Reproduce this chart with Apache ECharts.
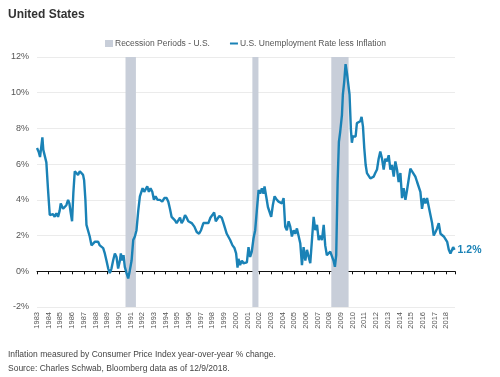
<!DOCTYPE html>
<html>
<head>
<meta charset="utf-8">
<script src="https://cdn.jsdelivr.net/npm/echarts@6/dist/echarts.min.js"></script>
<style>
  html, body { margin: 0; padding: 0; background: #fff; }
  #chart { width: 500px; height: 377px; }
</style>
</head>
<body>
<div id="chart"></div>
<script>
// values, year as decimal
const lineYears = [
  1983.00, 1983.14, 1983.26, 1983.37, 1983.46, 1983.54, 1983.66, 1983.80, 1983.94,
  1984.09, 1984.23, 1984.37, 1984.51, 1984.66, 1984.80, 1984.94,
  1985.03, 1985.23, 1985.37, 1985.51, 1985.66, 1985.77, 1985.89,
  1986.00, 1986.11, 1986.23, 1986.37, 1986.51, 1986.66, 1986.80, 1986.94,
  1987.03, 1987.14, 1987.23, 1987.37, 1987.51, 1987.66, 1987.80, 1987.94,
  1988.09, 1988.23, 1988.37, 1988.51, 1988.66, 1988.80, 1988.94,
  1989.09, 1989.23, 1989.37, 1989.51, 1989.66, 1989.80, 1989.94,
  1990.09, 1990.17, 1990.29, 1990.40, 1990.51, 1990.66, 1990.80, 1990.94,
  1991.09, 1991.23, 1991.37, 1991.51, 1991.66, 1991.80, 1991.94,
  1992.03, 1992.17, 1992.31, 1992.43, 1992.57, 1992.71, 1992.86,
  1993.00, 1993.14, 1993.31, 1993.51, 1993.71, 1993.89,
  1994.09, 1994.23, 1994.37, 1994.51, 1994.66, 1994.80, 1994.94,
  1995.09, 1995.23, 1995.37, 1995.51, 1995.66, 1995.80, 1995.94,
  1996.09, 1996.23, 1996.46, 1996.66, 1996.86,
  1997.03, 1997.23, 1997.43, 1997.66, 1997.83,
  1998.00, 1998.15, 1998.29, 1998.43, 1998.60, 1998.80, 1998.95,
  1999.09, 1999.23, 1999.37, 1999.52, 1999.72, 1999.89,
  2000.03, 2000.15, 2000.23, 2000.37, 2000.52, 2000.66, 2000.80, 2000.95,
  2001.09, 2001.23, 2001.37, 2001.52, 2001.66, 2001.80, 2001.95,
  2002.09, 2002.23, 2002.37, 2002.46, 2002.60, 2002.75, 2002.89,
  2003.03, 2003.17, 2003.32, 2003.46, 2003.66, 2003.80, 2003.95,
  2004.09, 2004.23, 2004.37, 2004.52, 2004.66, 2004.80, 2004.95,
  2005.09, 2005.23, 2005.37, 2005.52, 2005.66, 2005.80, 2005.95,
  2006.09, 2006.23, 2006.37, 2006.52, 2006.66, 2006.80, 2006.95,
  2007.09, 2007.23, 2007.37, 2007.52, 2007.65, 2007.79, 2007.93,
  2008.08, 2008.22, 2008.36, 2008.48, 2008.59, 2008.71, 2008.82, 2008.93,
  2009.08, 2009.16, 2009.28, 2009.39, 2009.51, 2009.62, 2009.73, 2009.85, 2009.93,
  2010.02, 2010.13, 2010.25, 2010.36, 2010.51, 2010.65, 2010.76, 2010.88, 2010.99,
  2011.11, 2011.22, 2011.36, 2011.51, 2011.65, 2011.79, 2011.93,
  2012.08, 2012.22, 2012.36, 2012.51, 2012.65, 2012.79, 2012.93,
  2013.08, 2013.22, 2013.36, 2013.51, 2013.65, 2013.79, 2013.93,
  2014.08, 2014.22, 2014.36, 2014.51, 2014.65, 2014.79, 2014.93,
  2015.08, 2015.22, 2015.36, 2015.51, 2015.65, 2015.79, 2015.93,
  2016.08, 2016.22, 2016.36, 2016.51, 2016.65, 2016.79, 2016.93,
  2017.08, 2017.22, 2017.36, 2017.51, 2017.65, 2017.79, 2017.93,
  2018.08, 2018.22, 2018.36, 2018.51, 2018.59, 2018.71
];
const lineValues = [
  6.9, 6.7, 6.4, 7.0, 7.5, 6.8, 6.7, 6.1, 4.6,
  3.15, 3.05, 3.2, 3.05, 3.25, 3.05, 3.4,
  3.8, 3.5, 3.4, 3.7, 4.0, 3.8, 3.25,
  2.8, 4.4, 5.6, 5.7, 5.4, 5.6, 5.5, 5.4,
  5.1, 4.0, 2.6, 2.5, 1.95, 1.45, 1.37, 1.65,
  1.75, 1.65, 1.45, 1.37, 1.3, 1.0, 0.6,
  0.15, -0.1, 0.15, 0.6, 1.0, 0.8, 0.15,
  0.6, 1.0, 0.6, 0.9, 0.25, -0.1, -0.4, 0.05,
  0.6, 1.75, 1.95, 2.3, 3.4, 4.2, 4.3,
  4.65, 4.45, 4.55, 4.75, 4.45, 4.65, 4.45,
  4.0, 4.2, 4.0, 4.0, 3.9, 4.1,
  4.1, 3.9, 3.5, 3.05, 3.15, 2.85, 2.7,
  2.6, 3.0, 2.7, 2.85, 3.15, 3.0, 2.8,
  2.85, 2.7, 2.5, 2.2, 2.1,
  2.3, 2.7, 2.7, 2.7, 3.0,
  3.15, 3.3, 2.8, 2.85, 3.1, 3.0, 2.7,
  2.8, 2.1, 2.2, 1.75, 1.45, 1.3,
  1.0, 0.2, 0.7, 0.35, 0.6, 0.45, 0.45, 0.5,
  1.35, 0.8, 1.1, 1.85, 2.3, 3.4, 4.55,
  4.35, 4.65, 4.35, 4.75, 4.2, 3.6, 3.6,
  3.05, 3.7, 4.2, 4.05, 3.9, 4.0, 3.8,
  4.1, 2.5, 2.3, 2.8, 2.5, 1.95, 2.3,
  2.1, 2.4, 2.5, 1.55, 0.35, 1.35, 0.6,
  1.2, 1.1, 0.45, 0.35, 3.05, 2.3, 2.6,
  1.75, 2.0, 1.75, 2.6, 1.45, 0.9, 1.0,
  1.1, 1.2, 0.6, 0.25, 0.9, 5.0, 7.25, 7.8,
  8.75, 9.9, 10.65, 11.6, 11.1, 11.0, 9.9, 7.9, 7.2,
  7.55, 7.65, 7.55, 8.3, 8.4, 8.4, 8.65, 8.1, 6.9,
  5.95, 5.5, 5.4, 5.2, 5.3, 5.3, 5.5,
  5.7, 6.3, 6.7, 6.3, 5.7, 6.3, 6.15,
  6.5, 5.7, 5.95, 5.3, 6.15, 5.7, 5.0,
  5.5, 4.1, 4.65, 4.0, 4.55, 4.65, 5.75,
  5.6, 5.6, 5.3, 5.0, 4.9, 4.45, 3.5,
  4.1, 3.8, 4.1, 3.6, 3.15, 2.7, 2.0,
  2.2, 2.4, 2.7, 2.1, 2.0, 1.95, 2.0,
  1.65, 1.2, 1.0, 1.1, 1.35, 1.2
];

const recessionStarts = [1990.57, 2001.42, 2008.17];
const recessionEnds = [1991.46, 2001.94, 2009.65];

const yTicks = [-2, 0, 2, 4, 6, 8, 10, 12];

const lineName = 'U.S. Unemployment Rate less Inflation';
const bandName = 'Recession Periods - U.S.';
const blue = '#1a82b6';
const font = 'Arial, "Liberation Sans", sans-serif';

const chart = echarts.init(document.getElementById('chart'), null, { renderer: 'canvas' });

const yMin = yTicks[0];
const yMax = yTicks[yTicks.length - 1];
const lastValue = lineValues[lineValues.length - 1];

chart.setOption({
  animation: false,
  backgroundColor: '#fff',
  textStyle: { fontFamily: font },
  title: [
    {
      text: 'United States',
      left: 8, top: 9, padding: 0,
      textStyle: { fontSize: 12, fontWeight: 'bold', color: '#333', fontFamily: font }
    },
    {
      text: 'Inflation measured by Consumer Price Index year-over-year % change.\nSource: Charles Schwab, Bloomberg data as of 12/9/2018.',
      left: 8, top: 348, padding: 0,
      textStyle: { fontSize: 8.5, fontWeight: 'normal', color: '#444', lineHeight: 13.5, fontFamily: font }
    }
  ],
  legend: {
    left: 105, top: 39, padding: 0,
    itemWidth: 8, itemHeight: 7, itemGap: 20,
    textStyle: { fontSize: 8.5, color: '#555', padding: [0, 0, 0, -3] },
    data: [
      { name: bandName, icon: 'rect', itemStyle: { color: '#c8ced9' } },
      { name: lineName, icon: 'path://M0,0H8V2H0Z', itemStyle: { color: blue } }
    ]
  },
  grid: { left: 37, right: 45, top: 57, bottom: 70 },
  xAxis: [
    {
      type: 'value',
      min: 1983, max: 2018.75, interval: 1,
      position: 'bottom',
      axisLine: { show: false, onZero: false },
      axisTick: { show: false },
      splitLine: { show: false },
      axisLabel: {
        rotate: 90, fontSize: 7.5, color: '#555', margin: 5,
        showMaxLabel: false,
        formatter: v => (Number.isInteger(v) ? String(v) : '')
      }
    },
    {
      type: 'value',
      min: 1983, max: 2018.75, interval: 1,
      position: 'bottom',
      axisLine: { show: true, onZero: true, lineStyle: { color: '#111', width: 1 } },
      axisTick: { show: true, length: 3, lineStyle: { color: '#111' } },
      splitLine: { show: false },
      axisLabel: { show: false }
    }
  ],
  yAxis: {
    type: 'value',
    min: yMin, max: yMax, interval: 2,
    axisLine: { show: false },
    axisTick: { show: false },
    axisLabel: { fontSize: 9, color: '#555', margin: 8, formatter: '{value}%' },
    splitLine: { lineStyle: { color: '#ebebeb', width: 1 } }
  },
  series: [
    {
      name: bandName,
      type: 'custom',
      xAxisIndex: 0,
      encode: { x: [0, 1] },
      itemStyle: { color: '#c8ced9' },
      data: recessionStarts.map((s, i) => [s, recessionEnds[i]]),
      renderItem(params, api) {
        const p0 = api.coord([api.value(0), yMax]);
        const p1 = api.coord([api.value(1), yMin]);
        return {
          type: 'rect',
          shape: { x: p0[0], y: p0[1], width: p1[0] - p0[0], height: p1[1] - p0[1] },
          style: api.style()
        };
      },
      z: 1
    },
    {
      name: lineName,
      type: 'line',
      xAxisIndex: 0,
      showSymbol: false,
      color: blue,
      lineStyle: { color: blue, width: 2.4 },
      data: lineYears.map((y, i) => [y, lineValues[i]]),
      endLabel: {
        show: true,
        formatter: () => lastValue.toFixed(1) + '%',
        color: blue,
        fontSize: 10.5,
        fontWeight: 'bold',
        distance: 3
      },
      z: 3
    }
  ]
});
</script>
</body>
</html>
